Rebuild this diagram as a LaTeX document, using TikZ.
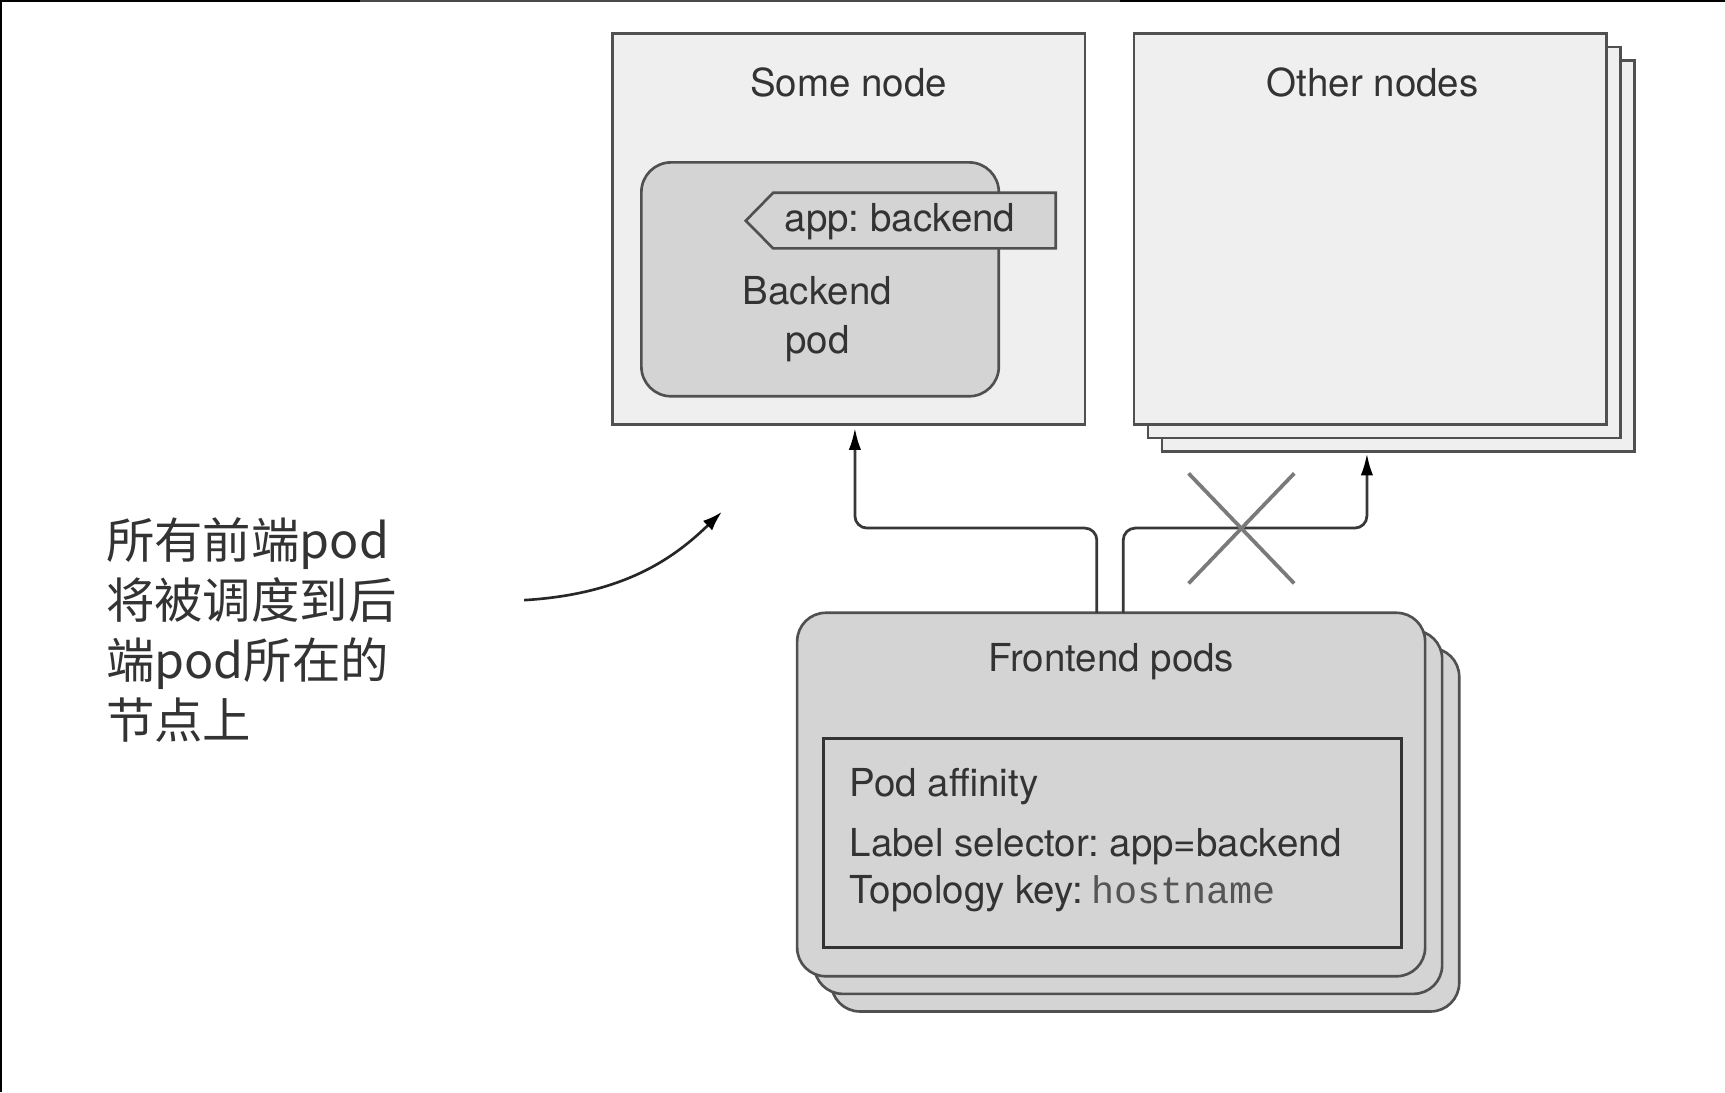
\documentclass[tikz,border=0pt]{standalone}
\usepackage{fontspec}
\setmainfont{TeX Gyre Heros}
\newfontfamily\cjkfont{Noto Sans CJK SC}
\newfontfamily\monofont{Liberation Mono}
\usetikzlibrary{arrows.meta,calc}
\definecolor{edge}{HTML}{505050}
\definecolor{txt}{HTML}{333333}
\definecolor{nodefill}{HTML}{EFEFEF}
\definecolor{podfill}{HTML}{D4D4D4}
\definecolor{crossc}{HTML}{7A7A7A}
\definecolor{monoc}{HTML}{555555}
\definecolor{framegray}{HTML}{4A4A4A}
\frenchspacing
\begin{document}
\begin{tikzpicture}[x=0.5pt,y=-0.5pt,
  hostbox/.style={draw=edge, line width=1.2pt, fill=nodefill, minimum width=214.7pt,
    minimum height=177.8pt, anchor=north west, inner sep=0pt, outer sep=0pt},
  podbox/.style={draw=edge, line width=1.2pt, fill=podfill, rounded corners=13pt,
    minimum width=285.4pt, minimum height=165.2pt, anchor=north west, inner sep=0pt, outer sep=0pt},
  lbl/.style={inner sep=0pt, text=txt, font=\fontsize{17.5pt}{21pt}\selectfont},
  cjk/.style={inner sep=0pt, text=txt, font=\cjkfont\fontsize{22pt}{26pt}\selectfont, anchor=base west},
  conn/.style={draw=black!78, line width=1.25pt, rounded corners=5.5pt,
    -{Latex[length=10pt,width=5.6pt,color=black]}},
  crossline/.style={draw=crossc, line width=1.7pt},
  curvearrow/.style={draw=black!85, line width=1.2pt, -{Latex[length=9pt,width=6pt,color=black]}}
]
\useasboundingbox (0,0) rectangle (1568,993);
\fill[white] (0,0) rectangle (1568,993);
% frame edges
\fill[black] (0,0) rectangle (327,1.9);
\fill[framegray] (327,0) rectangle (1018,1.9);
\fill[black] (1018,0) rectangle (1568,1.9);
\fill[black] (0,0) rectangle (2.1,993);

% Some node
\node[hostbox] (sn) at (556.7,30.3) {};
\node[lbl, anchor=base] (sntext) at (771.3,87.9) {Some node};
% Backend pod
\node[draw=edge, line width=1.2pt, fill=podfill, rounded corners=13.5pt, minimum width=162.45pt,
  minimum height=106.3pt, anchor=north west, inner sep=0pt] (bp) at (581.8,146.4) {};
\draw[draw=edge, line width=1.2pt, fill=podfill] (677.9,200.6) -- (702.8,175.2) -- (959.7,175.2)
  -- (959.7,225.8) -- (702.8,225.8) -- cycle;
\node[lbl, anchor=base] (tagtext) at (818,210.6) {app: backend};
\node[lbl, anchor=base] (bptext1) at (743,277) {Backend};
\node[lbl, anchor=base] (bptext2) at (743,321) {pod};

% Other nodes
\node[hostbox] (on3) at (1056.2,55) {};
\node[hostbox] (on2) at (1043.5,42.6) {};
\node[hostbox] (on1) at (1030.8,30.3) {};
\node[lbl, anchor=base] (ontext) at (1247.8,87.9) {Other nodes};

% Frontend pods
\node[podbox] (fp3) at (755.6,589) {};
\node[podbox] (fp2) at (740.1,573) {};
\node[podbox] (fp1) at (724.6,557) {};
\node[lbl, anchor=base] (fptext) at (1010,610.6) {Frontend pods};
\node[draw=black!80, line width=1.5pt, fill=podfill, minimum width=262.8pt, minimum height=95pt,
  anchor=north west, inner sep=0pt] (af) at (746.8,669.7) {};
\node[lbl, anchor=base west] (af1) at (772,724.2) {Pod affinity};
\node[lbl, anchor=base west] (af2) at (772,778.8) {Label selector: app=backend};
\node[lbl, anchor=base west] (af3) at (772,821.2) {Topology key:\hspace{3.5pt}{\monofont\color{monoc}hostname}};

% connectors
\coordinate (t1) at ($(sn.south)+(5.7,3)$);
\coordinate (t2) at ($(on1.south |- on3.south)+(-3,1.5)$);
\draw[conn] ([xshift=-6.5pt]fp1.north) -- ++(0,-77) -| (t1);
\draw[conn] ([xshift=5.5pt]fp1.north) -- ++(0,-77) -| (t2);

% cross
\coordinate (xc) at (1128.4,480.3);
\draw[crossline] ($(xc)+(-48,-50)$) -- ($(xc)+(48,50)$);
\draw[crossline] ($(xc)+(48,-50)$) -- ($(xc)+(-48,50)$);

% annotation
\node[cjk] (c1) at (96,508) {所有前端pod};
\node[cjk] (c2) at (96,562.5) {将被调度到后};
\node[cjk] (c3) at (96,617) {端pod所在的};
\node[cjk] (c4) at (96,671.5) {节点上};
\coordinate (cs) at (476.4,545.5);
\coordinate (ce) at (656.2,465.2);
\draw[curvearrow] (cs) .. controls (570,540) and (615,505) .. (ce);
\end{tikzpicture}
\end{document}
